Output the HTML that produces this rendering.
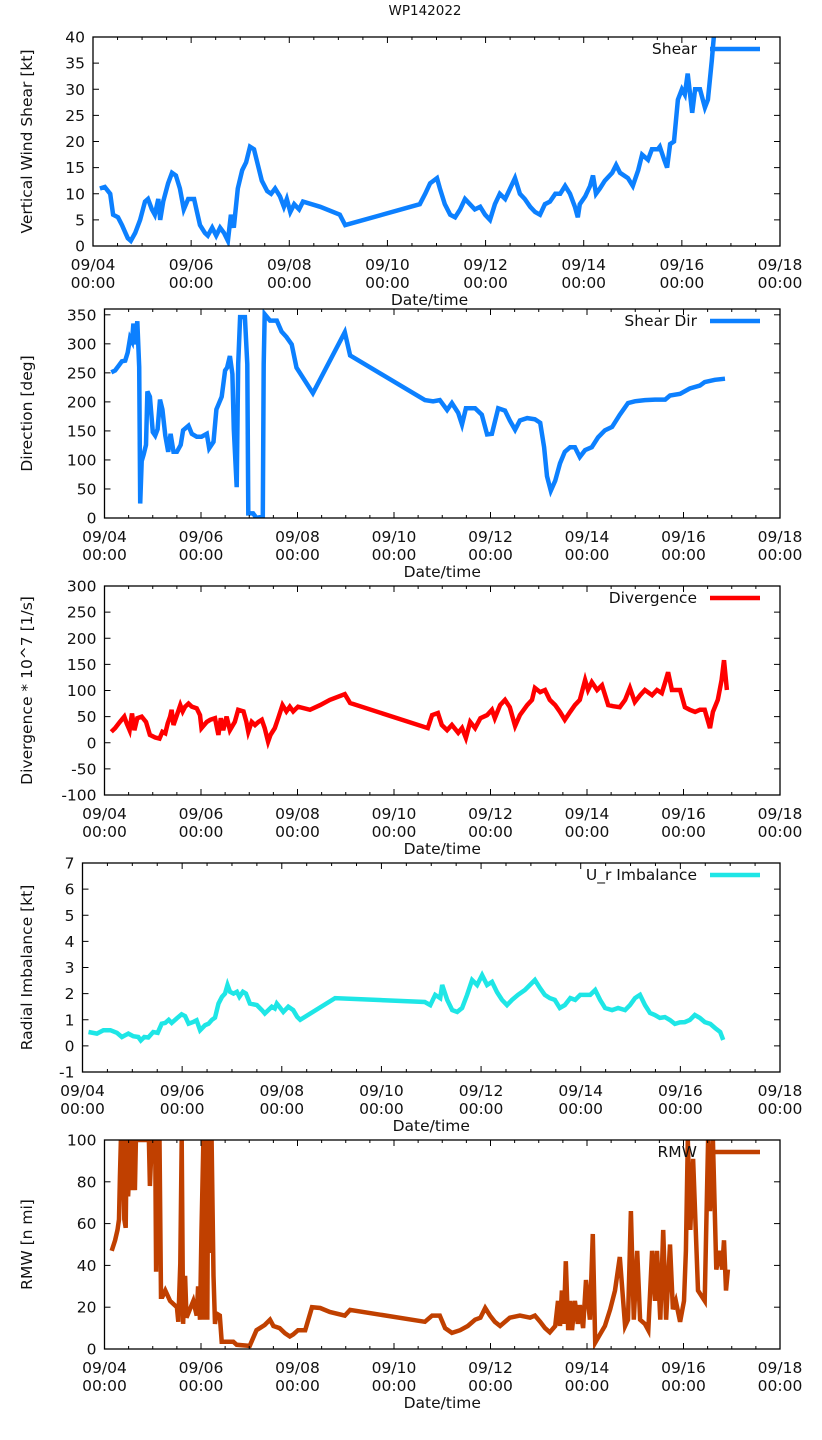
<!DOCTYPE html>
<html><head><meta charset="utf-8">
<style>
body{margin:0;background:#fff;}
svg{display:block;font-family:"DejaVu Sans","Liberation Sans",sans-serif;}
text{fill:#111;}
</style></head>
<body>
<svg id="chart" width="822" height="1440" viewBox="0 0 822 1440" xmlns="http://www.w3.org/2000/svg">
<rect width="822" height="1440" fill="#fff"/>
<text x="425" y="15" text-anchor="middle" font-size="13.5">WP142022</text>
</svg>
<script>
const xTickLabels = ["09/04","09/06","09/08","09/10","09/12","09/14","09/16","09/18"];
const shearTicks = [0,5,10,15,20,25,30,35,40];
const dirTicks = [0,50,100,150,200,250,300,350];
const divTicks = [-100,-50,0,50,100,150,200,250,300];
const urTicks = [-1,0,1,2,3,4,5,6,7];
const rmwTicks = [0,20,40,60,80,100];

const shearT = [0.14,0.24,0.35,0.41,0.51,0.59,0.71,0.77,0.86,0.96,1.06,1.12,1.20,1.26,1.33,1.37,1.43,1.53,1.61,1.69,1.77,1.85,1.94,2.06,2.12,2.18,2.28,2.34,2.43,2.51,2.59,2.67,2.75,2.81,2.87,2.95,3.04,3.12,3.20,3.28,3.36,3.44,3.55,3.63,3.71,3.81,3.89,3.95,4.02,4.10,4.20,4.28,4.63,5.03,5.14,6.66,6.77,6.87,7.01,7.07,7.17,7.28,7.38,7.48,7.58,7.68,7.78,7.89,7.99,8.09,8.19,8.29,8.40,8.50,8.60,8.70,8.80,8.91,9.01,9.11,9.21,9.31,9.42,9.52,9.62,9.72,9.82,9.88,9.92,10.03,10.13,10.19,10.25,10.33,10.43,10.58,10.66,10.74,10.90,11.00,11.11,11.19,11.31,11.39,11.51,11.55,11.64,11.70,11.76,11.84,11.92,12.00,12.06,12.12,12.21,12.27,12.37,12.47,12.53,12.61,12.67];
const shearV = [11,11.3,10,6,5.5,4,1.5,1,2.5,5,8.5,9,7,6,9,5,8.5,12,14,13.5,11,7,9,9,6.5,4,2.5,2,3.5,2,3.5,2.5,1,6,3.5,11,14.5,16,19,18.5,15.5,12.5,10.5,10,11,9.5,7.5,9,6.5,8,7,8.5,7.5,6,4,8,10,12,13,11,8,6,5.5,7,9,8,7,7.5,6,5,8,10,9,11,13,10,9,7.5,6.5,6,8,8.5,10,10,11.5,10,7.5,5.5,8,9.5,11.5,13.5,10,11,12.5,14,15.5,14,13,11.5,14.5,17.5,16.5,18.5,18.5,19,16.5,15,19.5,20,28,30,29,33,25.5,30,30,26.5,28,35.5,42];

const dirT = [0.14,0.22,0.29,0.36,0.43,0.48,0.53,0.57,0.60,0.63,0.68,0.72,0.74,0.77,0.81,0.86,0.89,0.94,1.0,1.05,1.10,1.15,1.20,1.26,1.32,1.37,1.43,1.50,1.58,1.63,1.74,1.81,1.91,2.01,2.12,2.17,2.26,2.32,2.43,2.50,2.54,2.60,2.65,2.68,2.74,2.77,2.81,2.91,2.96,2.98,3.08,3.15,3.28,3.30,3.32,3.43,3.57,3.67,3.77,3.88,3.98,4.32,4.98,5.09,6.64,6.81,6.95,7.10,7.20,7.33,7.41,7.49,7.68,7.82,7.93,8.03,8.16,8.30,8.40,8.51,8.61,8.76,8.92,9.03,9.11,9.17,9.25,9.34,9.44,9.54,9.65,9.75,9.85,9.96,10.10,10.23,10.37,10.52,10.68,10.85,10.99,11.20,11.41,11.62,11.72,11.93,12.13,12.34,12.44,12.65,12.86];
const dirV = [251,254,262,270,271,285,310,304,335,299,339,260,25,98,109,126,218,209,148,142,153,204,187,142,114,145,114,114,126,151,159,145,140,140,145,120,131,187,209,254,259,279,248,153,53,265,346,346,265,8,8,0,3,265,351,340,340,321,312,299,259,215,320,280,203,201,203,186,198,181,161,189,189,178,144,145,189,185,168,152,168,172,170,164,122,72,47,64,94,114,122,122,105,117,122,139,151,157,178,198,201,203,204,204,211,214,223,228,234,238,240];

const divT = [0.14,0.22,0.32,0.41,0.46,0.52,0.57,0.62,0.68,0.77,0.86,0.94,1.05,1.14,1.20,1.26,1.31,1.36,1.39,1.43,1.50,1.57,1.62,1.67,1.74,1.81,1.91,1.98,2.01,2.12,2.19,2.29,2.36,2.41,2.46,2.53,2.60,2.70,2.77,2.88,2.94,2.98,3.05,3.12,3.19,3.26,3.32,3.39,3.44,3.53,3.60,3.69,3.77,3.84,3.91,4.01,4.26,4.47,4.67,4.98,5.09,6.70,6.79,6.91,6.99,7.10,7.20,7.33,7.41,7.49,7.58,7.68,7.79,7.93,8.03,8.09,8.20,8.30,8.40,8.51,8.61,8.76,8.86,8.92,9.03,9.13,9.23,9.34,9.44,9.54,9.65,9.75,9.85,9.96,10.02,10.10,10.21,10.31,10.44,10.54,10.68,10.79,10.89,10.99,11.10,11.20,11.35,11.45,11.55,11.62,11.68,11.76,11.84,11.93,12.03,12.13,12.24,12.34,12.44,12.55,12.61,12.71,12.79,12.84,12.90];
const divV = [21,28,40,50,37,24,56,24,47,50,40,15,10,8,21,18,37,50,63,34,53,72,60,69,75,69,66,53,28,40,44,47,15,47,24,50,24,40,63,60,40,21,40,34,40,44,28,2,15,28,47,72,60,69,60,69,63,72,82,93,76,28,53,57,34,24,34,19,28,9,40,28,47,53,63,47,72,82,68,32,53,72,82,105,97,101,82,72,59,44,59,72,82,120,101,116,101,110,72,70,68,82,105,78,91,101,91,101,95,116,135,101,101,101,68,63,59,63,63,28,59,82,120,158,101];

const urT = [0.12,0.29,0.42,0.56,0.69,0.79,0.92,1.02,1.12,1.17,1.24,1.32,1.42,1.51,1.59,1.66,1.73,1.79,1.89,1.99,2.06,2.13,2.23,2.29,2.36,2.46,2.53,2.60,2.66,2.73,2.80,2.86,2.91,2.96,3.03,3.10,3.15,3.22,3.28,3.36,3.50,3.60,3.66,3.73,3.80,3.86,3.90,3.95,4.03,4.13,4.23,4.31,4.37,5.07,6.87,6.98,7.08,7.18,7.22,7.32,7.42,7.52,7.62,7.72,7.82,7.92,8.02,8.12,8.22,8.32,8.42,8.52,8.62,8.74,8.88,8.98,9.08,9.18,9.28,9.38,9.48,9.58,9.68,9.79,9.89,9.99,10.19,10.29,10.39,10.49,10.63,10.75,10.89,10.99,11.09,11.19,11.29,11.39,11.49,11.59,11.69,11.79,11.89,11.99,12.09,12.19,12.29,12.39,12.49,12.60,12.70,12.80,12.86];
const urV = [0.53,0.47,0.6,0.6,0.5,0.34,0.47,0.37,0.34,0.21,0.34,0.32,0.53,0.5,0.85,0.88,1.0,0.88,1.05,1.21,1.14,0.85,0.92,0.98,0.6,0.79,0.85,1.0,1.08,1.62,1.88,2.0,2.33,2.07,2.0,2.07,1.88,2.07,2.0,1.62,1.56,1.37,1.24,1.37,1.5,1.43,1.62,1.5,1.3,1.5,1.37,1.11,1.0,1.83,1.68,1.56,1.95,1.83,2.33,1.76,1.37,1.3,1.45,1.95,2.52,2.33,2.71,2.33,2.45,2.06,1.76,1.56,1.76,1.95,2.14,2.33,2.52,2.22,1.95,1.83,1.76,1.45,1.56,1.83,1.76,1.95,1.95,2.14,1.76,1.45,1.37,1.45,1.37,1.56,1.83,1.95,1.56,1.26,1.18,1.07,1.1,0.99,0.84,0.9,0.91,0.99,1.18,1.07,0.91,0.84,0.68,0.53,0.23];

const rmwT = [0.15,0.22,0.27,0.30,0.32,0.34,0.38,0.41,0.44,0.46,0.49,0.52,0.54,0.57,0.60,0.63,0.65,0.92,0.94,0.98,1.01,1.05,1.07,1.10,1.14,1.17,1.20,1.26,1.36,1.50,1.53,1.57,1.60,1.63,1.67,1.70,1.77,1.84,1.91,1.94,1.98,2.01,2.05,2.07,2.10,2.13,2.15,2.19,2.22,2.26,2.29,2.32,2.39,2.43,2.67,2.74,3.01,3.15,3.22,3.32,3.43,3.50,3.63,3.74,3.84,3.91,4.01,4.16,4.30,4.47,4.67,4.98,5.09,6.64,6.79,6.95,7.06,7.20,7.37,7.53,7.68,7.79,7.89,7.99,8.09,8.20,8.40,8.61,8.82,8.92,9.03,9.13,9.23,9.34,9.40,9.44,9.48,9.52,9.56,9.61,9.65,9.69,9.75,9.81,9.85,9.92,9.98,10.06,10.12,10.17,10.27,10.37,10.48,10.58,10.68,10.79,10.85,10.91,10.97,11.04,11.10,11.20,11.27,11.35,11.41,11.45,11.52,11.58,11.64,11.72,11.78,11.84,11.93,12.01,12.05,12.09,12.14,12.20,12.30,12.44,12.51,12.55,12.61,12.68,12.76,12.80,12.84,12.88,12.92];
const rmwV = [47,52,57,62,82,100,100,62,58,100,73,89,100,76,100,76,100,100,78,100,89,100,37,100,100,25,25,28,23,20,13,41,100,12,35,15,19,23,16,30,14,57,100,14,100,14,100,46,100,35,12,17,16,3.5,3.5,2,1.5,9,10,11.5,14,11,10,7.5,6,7,9,9,20,19.6,17.7,16,18.7,13,16,16,10,7.7,9,11,14,15,19.6,16,13,11,15,16,15,16,13,10,8,11,23,11,28,12,42,9,23,9,23,12,21,10,33,14,55,3,7,11,19,28,44,11,14,66,14,47,14,12,9,47,23,47,14,57,14,50,19,23,13,23,47,100,57,91,28,23,100,66,100,38,47,38,52,28,38];

const NS = "http://www.w3.org/2000/svg";
const svg = document.getElementById('chart');
function mk(tag, attrs, parent){ const e=document.createElementNS(NS,tag); for(const k in attrs) e.setAttribute(k,attrs[k]); (parent||svg).appendChild(e); return e; }

function panel(cfg, idx){
  const L=cfg.left, R=780, T=cfg.top, B=cfg.bottom;
  const g = mk('g',{});
  
  
  const days=14;
  const xs = d => L + d*(R-L)/days;
  const ys = v => B - (v-cfg.ymin)*(B-T)/(cfg.ymax-cfg.ymin);
  const cp = mk('clipPath',{id:'clip'+idx}, g);
  mk('rect',{x:L,y:T,width:R-L,height:B-T}, cp);
  let d='';
  cfg.t.forEach((t,i)=>{ d += (i?'L':'M')+xs(t).toFixed(1)+','+ys(cfg.v[i]).toFixed(1); });
  const line = mk('path',{d:d, fill:'none', stroke:cfg.color, 'stroke-width':4.5, 'stroke-linejoin':'miter', 'clip-path':'url(#clip'+idx+')'}, g);
  
  
  const fr = mk('rect',{x:L,y:T,width:R-L,height:B-T,fill:'none',stroke:'#000','stroke-width':1.3}, g);
  
  
  for(let h=0; h<=days*2; h++){
    const x=xs(h/2), len = (h%4===0)?6:3;
    mk('line',{x1:x,y1:B,x2:x,y2:B-len,stroke:'#000','stroke-width':1}, g);
    mk('line',{x1:x,y1:T,x2:x,y2:T+len,stroke:'#000','stroke-width':1}, g);
  }
  xTickLabels.forEach((lab,i)=>{
    const x=xs(i*2);
    const t1 = mk('text',{x:x,y:B+24,'text-anchor':'middle','font-size':15.5}, g);
    t1.textContent = lab;
    
    
    const t2 = mk('text',{x:x,y:B+42,'text-anchor':'middle','font-size':15.5}, g);
    t2.textContent = '00:00';
    
    
  });
  const xt = mk('text',{x:(L+R)/2+(idx===0?-7:0), y:B+59,'text-anchor':'middle','font-size':15.5}, g);
  xt.textContent='Date/time';
  
  
  cfg.ticks.forEach(v=>{
    const y=ys(v);
    mk('line',{x1:L,y1:y,x2:L+6,y2:y,stroke:'#000','stroke-width':1}, g);
    mk('line',{x1:R,y1:y,x2:R-6,y2:y,stroke:'#000','stroke-width':1}, g);
    const tl = mk('text',{x:L-8,y:y+5.5,'text-anchor':'end','font-size':15.5}, g);
    tl.textContent = v;
    
    
  });
  const yc=(T+B)/2;
  const yt = mk('text',{x:0,y:0,'text-anchor':'middle','font-size':15.5,transform:'translate(32,'+yc+') rotate(-90)'}, g);
  yt.textContent = cfg.ylabel;
  
  
  const lg = mk('g',{}, g);
  
  
  const ltx = mk('text',{x:697,y:T+17,'text-anchor':'end','font-size':15.5}, lg);
  ltx.textContent = cfg.legend;
  mk('line',{x1:710,y1:T+12,x2:760,y2:T+12,stroke:cfg.color,'stroke-width':4.5}, lg);
}

const panels = [
  {name:'shear', left:93, top:37, bottom:246, ymin:0, ymax:40, ticks:shearTicks, t:shearT, v:shearV, color:'#0c80ff', ylabel:'Vertical Wind Shear [kt]', legend:'Shear'},
  {name:'shear-dir', left:104.5, top:309, bottom:518, ymin:0, ymax:360, ticks:dirTicks, t:dirT, v:dirV, color:'#0c80ff', ylabel:'Direction [deg]', legend:'Shear Dir'},
  {name:'divergence', left:104.5, top:586, bottom:795, ymin:-100, ymax:300, ticks:divTicks, t:divT, v:divV, color:'#ff0000', ylabel:'Divergence * 10^7 [1/s]', legend:'Divergence'},
  {name:'ur-imbalance', left:82.5, top:863, bottom:1072, ymin:-1, ymax:7, ticks:urTicks, t:urT, v:urV, color:'#1ee6e6', ylabel:'Radial Imbalance [kt]', legend:'U_r Imbalance'},
  {name:'rmw', left:104.5, top:1140, bottom:1349, ymin:0, ymax:100, ticks:rmwTicks, t:rmwT, v:rmwV, color:'#c04000', ylabel:'RMW [n mi]', legend:'RMW'}
];
panels.forEach((p,i)=>panel(p,i));
</script>
</body></html>
